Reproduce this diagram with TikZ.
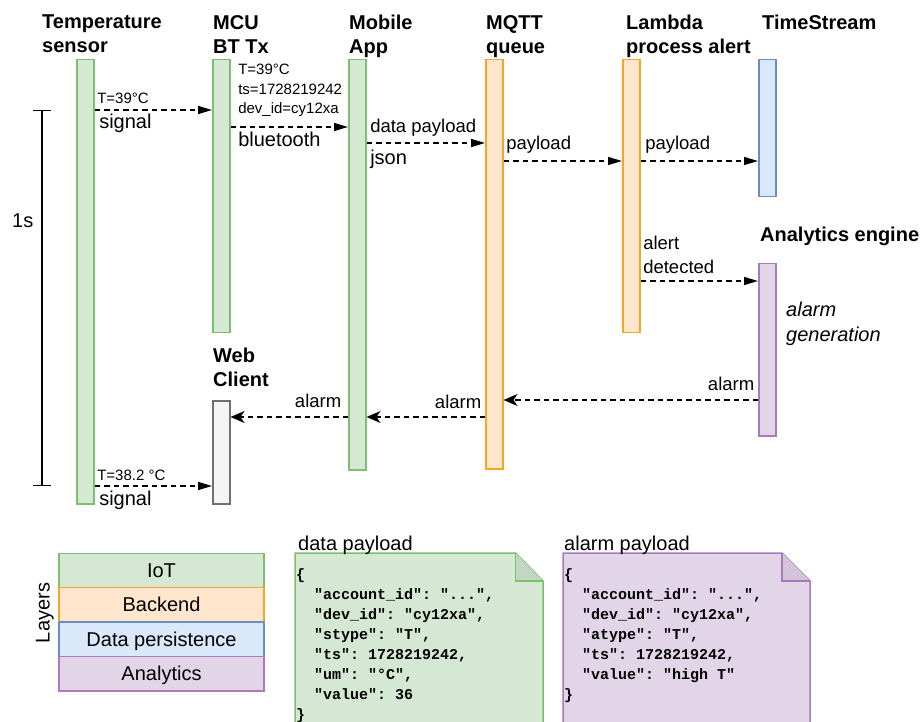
\documentclass[tikz,border=0pt]{standalone}
\usepackage{fontspec}
\setmainfont{Liberation Sans}
\setmonofont{Liberation Mono}
\usetikzlibrary{arrows.meta,positioning}
\definecolor{iotfill}{HTML}{D5E8D4}
\definecolor{iotline}{HTML}{7DBF6E}
\definecolor{iotfold}{HTML}{C2D6C1}
\definecolor{backfill}{HTML}{FFE6CC}
\definecolor{backline}{HTML}{F5A623}
\definecolor{dbfill}{HTML}{DAE8FC}
\definecolor{dbline}{HTML}{6C8EBF}
\definecolor{anfill}{HTML}{E1D5E7}
\definecolor{anline}{HTML}{A97BB8}
\definecolor{anfold}{HTML}{D3C4DA}
\definecolor{webfill}{HTML}{F5F5F5}
\definecolor{webline}{HTML}{707070}

\begin{document}
\begin{tikzpicture}[x=1pt,y=-1pt,
    lifebar/.style={draw, line width=1.5pt, inner sep=0pt, minimum width=17pt, anchor=north west},
    iotbar/.style={lifebar, fill=iotfill, draw=iotline},
    backbar/.style={lifebar, fill=backfill, draw=backline},
    title/.style={font=\bfseries\fontsize{20}{24}\selectfont, align=left, inner sep=0pt, anchor=north west},
    msg/.style={dashed, dash pattern=on 5.5pt off 4pt, line width=1.5pt, -{Triangle[length=14pt,width=8pt]}},
    reply/.style={msg, -{Stealth[length=14pt,width=12pt,inset=4pt]}},
    lbl/.style={font=\fontsize{18.5}{23.7}\selectfont, inner sep=0pt, align=left},
    lbltwenty/.style={font=\fontsize{20}{25}\selectfont, inner sep=0pt, align=left},
    smalllbl/.style={font=\fontsize{15}{19.5}\selectfont, inner sep=0pt, align=left},
    layerbox/.style={lbltwenty, draw, line width=1.5pt, outer sep=0pt, minimum width=205pt, minimum height=34.4pt,
        text height=18pt, text depth=4.5pt},
    json/.style={font=\ttfamily\bfseries\fontsize{15}{20}\selectfont, align=left, inner sep=0pt, anchor=north west}]
    \useasboundingbox (0,0) rectangle (922,722);
    \clip (0,0) rectangle (922,722);

    \node[iotbar, minimum height=444pt] (sensor) at (76,59) {};
    \node[iotbar, minimum height=273pt] (mcu) at (212,59) {};
    \node[iotbar, minimum height=410pt] (mobile) at (348,59) {};
    \node[backbar, minimum height=409pt] (mqtt) at (485,59) {};
    \node[backbar, minimum height=273pt] (lambda) at (622,59) {};
    \node[lifebar, fill=dbfill, draw=dbline, minimum height=137pt] (tstream) at (758,59) {};
    \node[lifebar, fill=anfill, draw=anline, minimum height=172pt] (analytics) at (758,263) {};
    \node[lifebar, fill=webfill, draw=webline, minimum height=103pt] (web) at (212,400) {};

    \node[title] (tsensor) at (42,15) {Temperature\\sensor};
    \node[title] (tmcu) at (213,15) {MCU\\BT Tx};
    \node[title] (tmobile) at (349,15) {Mobile\\App};
    \node[title] (tmqtt) at (486,15) {MQTT\\queue};
    \node[title] (tlambda) at (626,15) {Lambda\\process alert};
    \node[title] (ttstream) at (762,15) {TimeStream};
    \node[title] (tanalytics) at (760,227) {Analytics engine};
    \node[title] (tweb) at (213,347.5) {Web\\Client};

    \draw[msg] ([yshift=-51pt]sensor.north east) -- ([yshift=-51pt]mcu.north west)
        node[smalllbl, at start, anchor=base west, xshift=2pt, yshift=6pt] {T=39°C}
        node[lbltwenty, at start, anchor=base west, xshift=4pt, yshift=-19pt] {signal};
    \draw[msg] ([yshift=-68pt]mcu.north east) -- ([yshift=-68pt]mobile.north west)
        node[smalllbl, at start, anchor=north west, xshift=7pt, yshift=63.7pt] {T=39°C\\ts=1728219242\\dev\_id=cy12xa}
        node[lbltwenty, at start, anchor=base west, xshift=7pt, yshift=-20pt] {bluetooth};
    \draw[msg] ([yshift=-84pt]mobile.north east) -- ([yshift=-84pt]mqtt.north west)
        node[lbl, at start, anchor=base west, xshift=3pt, yshift=10pt] {data payload}
        node[lbltwenty, at start, anchor=base west, xshift=3pt, yshift=-22pt] {json};
    \draw[msg] ([yshift=-102pt]mqtt.north east) -- ([yshift=-102pt]lambda.north west)
        node[lbl, at start, anchor=base west, xshift=2pt, yshift=11pt] {payload};
    \draw[msg] ([yshift=-102pt]lambda.north east) -- ([yshift=-102pt]tstream.north west)
        node[lbl, at start, anchor=base west, xshift=4pt, yshift=11pt] {payload};
    \draw[msg] ([yshift=-222pt]lambda.north east) -- ([yshift=-18pt]analytics.north west)
        node[lbl, at start, anchor=north west, xshift=2pt, yshift=45.5pt] {alert\\detected};
    \draw[reply] ([yshift=-137pt]analytics.north west) -- ([yshift=-341pt]mqtt.north east)
        node[lbl, at start, anchor=base east, xshift=-3pt, yshift=10pt] {alarm};
    \draw[reply] ([yshift=-358pt]mqtt.north west) -- ([yshift=-358pt]mobile.north east)
        node[lbl, at start, anchor=base east, xshift=-3pt, yshift=9pt] {alarm};
    \draw[reply] ([yshift=-358pt]mobile.north west) -- ([yshift=-17pt]web.north east)
        node[lbl, at start, anchor=base east, xshift=-6pt, yshift=10pt] {alarm};
    \draw[msg] ([yshift=-427pt]sensor.north east) -- ([yshift=-86pt]web.north west)
        node[smalllbl, at start, anchor=base west, xshift=2pt, yshift=5.7pt] {T=38.2 °C}
        node[lbltwenty, at start, anchor=base west, xshift=4pt, yshift=-19.3pt] {signal};

    \node[lbltwenty, font=\itshape\fontsize{20}{25}\selectfont, anchor=north west] (alarmgen) at (786,302) {alarm\\generation};

    \coordinate (t0) at (42,110);
    \coordinate (t1) at (42,486);
    \draw[line width=1.2pt, {Bar[width=18pt]}-{Bar[width=18pt]}] (t0) -- (t1);
    \node[lbltwenty, anchor=base west] (onesec) at (12,228) {1s};

    \node[layerbox, fill=iotfill, draw=iotline] (iot) at (161.5,570.5) {IoT};
    \node[layerbox, fill=backfill, draw=backline, below=0pt of iot] (backend) {Backend};
    \node[layerbox, fill=dbfill, draw=dbline, below=0pt of backend] (persist) {Data persistence};
    \node[layerbox, fill=anfill, draw=anline, below=0pt of persist] (analyt) {Analytics};
    \node[lbltwenty, rotate=90, anchor=base] (layers) at (49.5,613) {Layers};

    \draw[line width=1.5pt, draw=iotline, fill=iotfill] (295,553) -- (515.7,553) -- (543,581) -- (543,730) -- (295,730) -- cycle;
    \filldraw[line width=1.5pt, draw=iotline, fill=iotfold] (515.7,553) -- (515.7,581) -- (543,581);
    \node[lbltwenty, anchor=base west] (dptitle) at (298,550) {data payload};
    \node[json] (dpjson) at (296,568.5) {\{\\
        ~~"account\_id": "...",\\
        ~~"dev\_id": "cy12xa",\\
        ~~"stype": "T",\\
        ~~"ts": 1728219242,\\
        ~~"um": "°C",\\
        ~~"value": 36\\
        \}};

    \draw[line width=1.5pt, draw=anline, fill=anfill] (563,553) -- (782,553) -- (810,581) -- (810,730) -- (563,730) -- cycle;
    \filldraw[line width=1.5pt, draw=anline, fill=anfold] (782,553) -- (782,581) -- (810,581);
    \node[lbltwenty, anchor=base west] (aptitle) at (564,550) {alarm payload};
    \node[json] (apjson) at (564,568.5) {\{\\
        ~~"account\_id": "...",\\
        ~~"dev\_id": "cy12xa",\\
        ~~"atype": "T",\\
        ~~"ts": 1728219242,\\
        ~~"value": "high T"\\
        \}};
\end{tikzpicture}
\end{document}
